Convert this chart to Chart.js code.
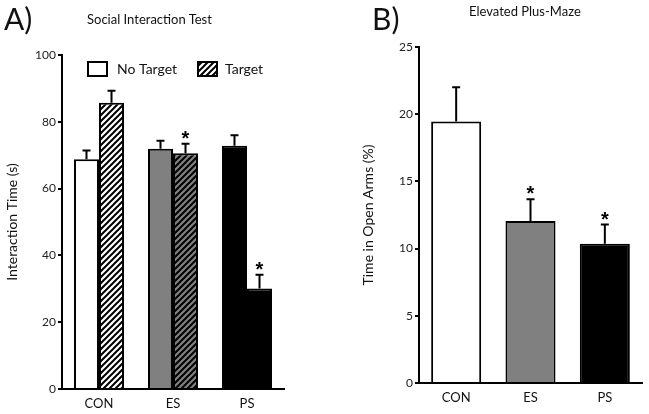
<!DOCTYPE html>
<html>
<head>
<meta charset="utf-8">
<script src="https://cdn.jsdelivr.net/npm/chart.js@4"></script>
<style>
  body { margin: 0; background: #fff; width: 649px; height: 414px; position: relative; overflow: hidden; font-family: Lato, sans-serif; color: #111; }
  canvas { position: absolute; top: 0; }
  .lbl { position: absolute; white-space: nowrap; line-height: 1; }
  .big { font-size: 30px; }
  .ttl { font-size: 13px; }
</style>
</head>
<body>
<canvas id="chartA" width="330" height="414" style="left:0"></canvas>
<canvas id="chartB" width="319" height="414" style="left:330px"></canvas>
<div class="lbl big" style="left:4px; top:3px">A)</div>
<div class="lbl ttl" style="left:87px; top:13px">Social Interaction Test</div>
<div class="lbl big" style="left:372px; top:3px">B)</div>
<div class="lbl ttl" style="left:469px; top:5px">Elevated Plus-Maze</div>
<script>
// data
const categories = ['CON', 'ES', 'PS'];
const noTargetValues = [68.8, 71.9, 72.8];
const noTargetErrors = [2.6, 2.4, 3.2];
const targetValues = [85.7, 70.6, 30.1];
const targetErrors = [3.6, 2.8, 4.1];
const targetStars = [false, true, true];
const plusMazeValues = [19.45, 12.05, 10.37];
const plusMazeErrors = [2.55, 1.62, 1.42];
const plusMazeStars = [false, true, true];
const socialTicks = { max: 100, step: 20 };
const mazeTicks = { max: 25, step: 5 };

Chart.defaults.font.family = 'Lato';
Chart.defaults.color = '#222';

const GRAY = '#808080';

function hatch(bg) {
    const c = document.createElement('canvas');
    c.width = 6; c.height = 6;
    const g = c.getContext('2d');
    g.fillStyle = bg;
    g.fillRect(0, 0, 6, 6);
    g.strokeStyle = '#000';
    g.lineWidth = 2;
    g.beginPath();
    g.moveTo(-1, 7); g.lineTo(7, -1);
    g.moveTo(-4, 4); g.lineTo(4, -4);
    g.moveTo(2, 10); g.lineTo(10, 2);
    g.stroke();
    return g.createPattern(c, 'repeat');
}

// draws the up-only error bars and the stars
const errorBars = {
    id: 'errorBars',
    afterDatasetsDraw(chart) {
        const ctx = chart.ctx;
        const y = chart.scales.y;
        ctx.save();
        ctx.strokeStyle = '#000';
        ctx.lineWidth = 2;
        ctx.fillStyle = '#000';
        ctx.font = 'bold 20px "Liberation Sans"';
        ctx.textAlign = 'center';
        chart.data.datasets.forEach((ds, di) => {
            const meta = chart.getDatasetMeta(di);
            meta.data.forEach((bar, i) => {
                const top = y.getPixelForValue(ds.data[i] + ds.errors[i]);
                ctx.beginPath();
                ctx.moveTo(bar.x, bar.y);
                ctx.lineTo(bar.x, top);
                ctx.moveTo(bar.x - 4, top);
                ctx.lineTo(bar.x + 4, top);
                ctx.stroke();
                if (ds.stars && ds.stars[i]) {
                    ctx.fillText('*', bar.x, top + 1);
                }
            });
        });
        ctx.restore();
    }
};

function yScale(t, titleText) {
    return {
        min: 0,
        max: t.max,
        ticks: { stepSize: t.step, padding: 2, font: { size: 12 } },
        grid: { drawOnChartArea: false, drawTicks: true, tickLength: 4, color: '#000', lineWidth: 2 },
        border: { display: true, color: '#000', width: 2 },
        title: { display: true, text: titleText, font: { size: 14 }, color: '#111', padding: { top: 4, bottom: 0 } }
    };
}

const xScale = {
    grid: { display: false, drawTicks: false },
    border: { display: true, color: '#000', width: 2 },
    ticks: { padding: 7, font: { size: 13 }, color: '#111' }
};

// chart A
const ctxA = document.getElementById('chartA').getContext('2d');
const targetFill = [hatch('#fff'), hatch(GRAY), '#000'];

const legendA = {
    id: 'legendA',
    afterDraw(chart) {
        const ctx = chart.ctx;
        ctx.save();
        ctx.lineWidth = 2;
        ctx.strokeStyle = '#000';
        ctx.fillStyle = '#fff';
        ctx.fillRect(88, 62, 19, 14);
        ctx.strokeRect(88, 62, 19, 14);
        ctx.fillStyle = targetFill[0];
        ctx.fillRect(198, 62, 19, 14);
        ctx.strokeRect(198, 62, 19, 14);
        ctx.fillStyle = '#111';
        ctx.font = '14px Lato';
        ctx.textBaseline = 'middle';
        ctx.fillText('No Target', 117, 69);
        ctx.fillText('Target', 225, 69);
        ctx.restore();
    }
};

new Chart(ctxA, {
    type: 'bar',
    data: {
        labels: categories,
        datasets: [
            {
                label: 'No Target',
                data: noTargetValues,
                errors: noTargetErrors,
                backgroundColor: ['#fff', GRAY, '#000'],
                borderColor: '#000',
                borderWidth: 2
            },
            {
                label: 'Target',
                data: targetValues,
                errors: targetErrors,
                stars: targetStars,
                backgroundColor: targetFill,
                borderColor: '#000',
                borderWidth: 2
            }
        ]
    },
    options: {
        responsive: false,
        animation: false,
        categoryPercentage: 0.676,
        barPercentage: 1,
        layout: { padding: { left: 0, right: 46, top: 55, bottom: 0 } },
        scales: {
            x: Object.assign({}, xScale, { afterFit(s) { s.height = 25; } }),
            y: Object.assign(yScale(socialTicks, 'Interaction Time (s)'), { afterFit(s) { s.width = 62; } })
        },
        plugins: { legend: { display: false }, tooltip: { enabled: false } }
    },
    plugins: [errorBars, legendA]
});

// chart B
const ctxB = document.getElementById('chartB').getContext('2d');
new Chart(ctxB, {
    type: 'bar',
    data: {
        labels: categories,
        datasets: [
            {
                label: 'Time in Open Arms',
                data: plusMazeValues,
                errors: plusMazeErrors,
                stars: plusMazeStars,
                backgroundColor: ['#fff', GRAY, '#000'],
                borderColor: '#000',
                borderWidth: 2
            }
        ]
    },
    options: {
        responsive: false,
        animation: false,
        categoryPercentage: 0.673,
        barPercentage: 1,
        layout: { padding: { left: 26, right: 7, top: 47, bottom: 0 } },
        scales: {
            x: Object.assign({}, xScale, { afterFit(s) { s.height = 31; } }),
            y: Object.assign(yScale(mazeTicks, 'Time in Open Arms (%)'), { afterFit(s) { s.width = 63; } })
        },
        plugins: { legend: { display: false }, tooltip: { enabled: false } }
    },
    plugins: [errorBars]
});
</script>
</body>
</html>
